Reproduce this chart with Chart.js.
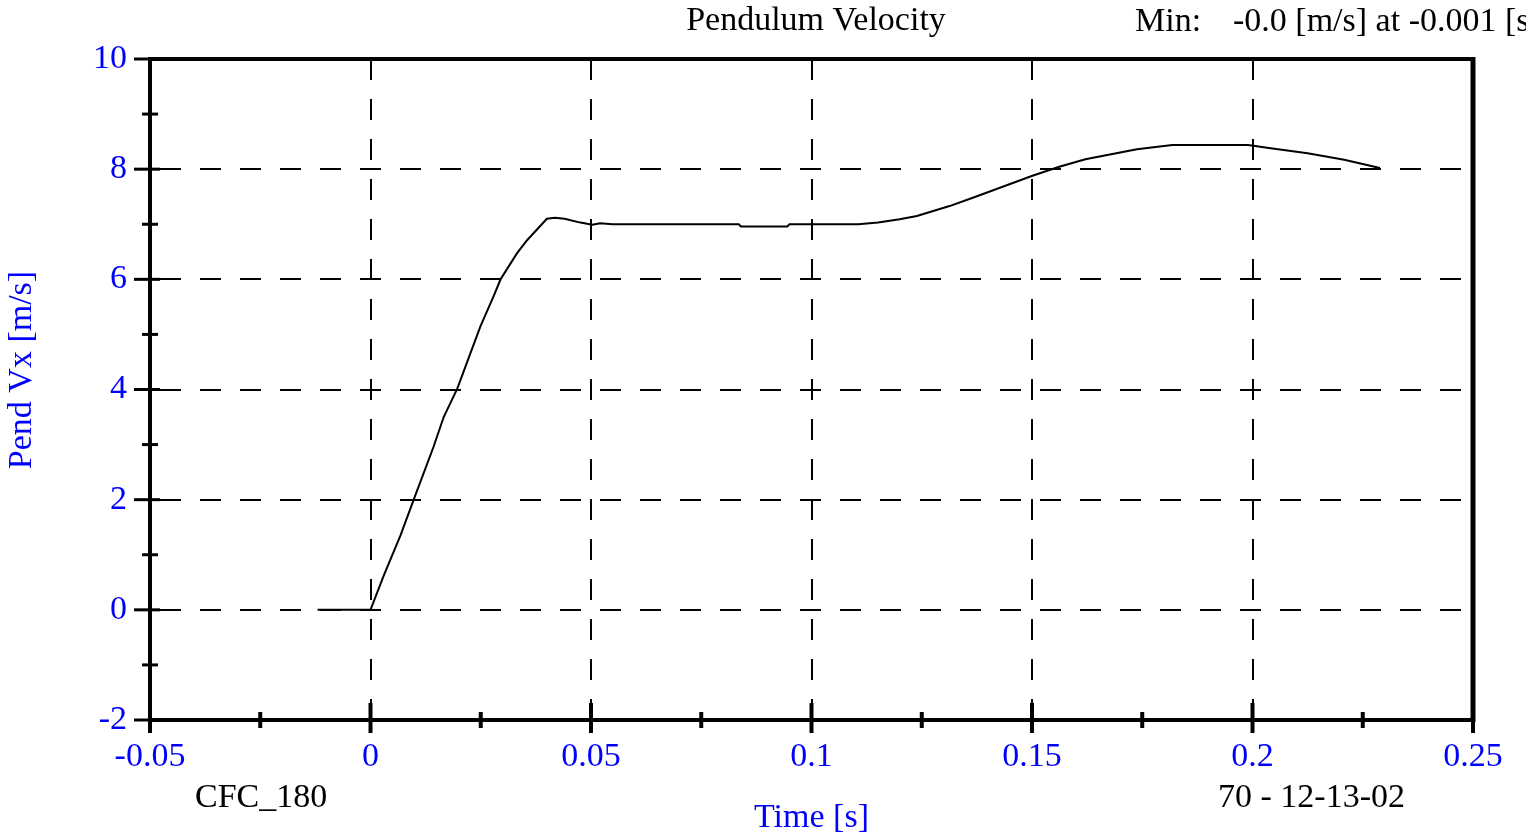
<!DOCTYPE html>
<html>
<head>
<meta charset="utf-8">
<title>Pendulum Velocity</title>
<script src="https://cdn.jsdelivr.net/npm/chart.js@4/dist/chart.umd.min.js"></script>
<style>
  html, body { margin: 0; padding: 0; background: #fff; }
  #wrap { width: 1526px; height: 836px; }
</style>
</head>
<body>
<div id="wrap"><canvas id="velChart" width="1526" height="836"></canvas></div>
<script>
// values
const timeS = [-0.012, 0, 0.003, 0.0068, 0.0098, 0.0143, 0.0166, 0.0197, 0.0249, 0.0279,
  0.0295, 0.0332, 0.0355, 0.0400, 0.0418, 0.0440, 0.0476, 0.0503, 0.0521, 0.0548,
  0.0835, 0.0840, 0.0945, 0.0950, 0.1106, 0.1151, 0.1200, 0.1239, 0.1313, 0.1369,
  0.1501, 0.1560, 0.1621, 0.1738, 0.1818, 0.1990, 0.2041, 0.2125, 0.2208, 0.2289];
const pendVx = [0, 0, 0.62, 1.35, 2.0, 2.96, 3.5, 4.02, 5.14, 5.69,
  6.0, 6.47, 6.71, 7.10, 7.12, 7.10, 7.03, 6.99, 7.02, 7.00,
  7.00, 6.96, 6.96, 7.00, 7.00, 7.03, 7.09, 7.15, 7.33, 7.49,
  7.88, 8.04, 8.18, 8.36, 8.44, 8.44, 8.38, 8.29, 8.17, 8.02];

const xTickValues = [-0.05, 0, 0.05, 0.1, 0.15, 0.2, 0.25];
const xMinorTicks = [-0.025, 0.025, 0.075, 0.125, 0.175, 0.225];
const yTickValues = [-2, 0, 2, 4, 6, 8, 10];
const yMinorTicks = [-1, 1, 3, 5, 7, 9];

const serif = '"Liberation Serif", "DejaVu Serif", serif';
const blue = '#0000ff';
const fontPx = 34;

// frame, tick marks and the loose texts around the plot
const decorations = {
  id: 'decorations',
  afterDraw(chart) {
    const ctx = chart.ctx;
    const a = chart.chartArea;
    const xs = chart.scales.x, ys = chart.scales.y;
    ctx.save();
    ctx.strokeStyle = '#000';
    ctx.lineCap = 'butt';

    // y ticks, crossing the left axis
    ctx.lineWidth = 3;
    yTickValues.forEach(v => {
      const p = ys.getPixelForValue(v);
      ctx.beginPath(); ctx.moveTo(134, p); ctx.lineTo(160, p); ctx.stroke();
    });
    yMinorTicks.forEach(v => {
      const p = ys.getPixelForValue(v);
      ctx.beginPath(); ctx.moveTo(142, p); ctx.lineTo(158, p); ctx.stroke();
    });
    // x ticks, crossing the bottom axis
    ctx.lineWidth = 4;
    xTickValues.forEach(v => {
      const p = xs.getPixelForValue(v);
      ctx.beginPath(); ctx.moveTo(p, a.bottom - 17); ctx.lineTo(p, a.bottom + 13); ctx.stroke();
    });
    xMinorTicks.forEach(v => {
      const p = xs.getPixelForValue(v);
      ctx.beginPath(); ctx.moveTo(p, a.bottom - 8); ctx.lineTo(p, a.bottom + 8); ctx.stroke();
    });

    // thick frame
    ctx.lineWidth = 4;
    ctx.beginPath();
    ctx.moveTo(a.left, a.top); ctx.lineTo(a.right, a.top);
    ctx.moveTo(a.left, a.bottom); ctx.lineTo(a.right, a.bottom);
    ctx.moveTo(a.left, a.top - 2); ctx.lineTo(a.left, a.bottom + 2);
    ctx.stroke();
    ctx.lineWidth = 5;
    ctx.beginPath();
    ctx.moveTo(a.right, a.top - 2); ctx.lineTo(a.right, a.bottom + 2);
    ctx.stroke();

    // texts
    ctx.font = fontPx + 'px ' + serif;
    ctx.fillStyle = '#000';
    ctx.textBaseline = 'middle';
    ctx.textAlign = 'center';
    ctx.fillText('Pendulum Velocity', 816, 21);
    ctx.textAlign = 'left';
    ctx.fillText('Min:', 1135, 22);
    ctx.fillText('-0.0 [m/s] at -0.001 [s]', 1233, 22);
    ctx.fillText('CFC_180', 195, 798);
    ctx.fillText('70 - 12-13-02', 1218, 798);

    // y axis title
    ctx.fillStyle = blue;
    ctx.textAlign = 'center';
    ctx.translate(22, 370);
    ctx.rotate(-Math.PI / 2);
    ctx.fillText('Pend Vx [m/s]', 0, 0);
    ctx.restore();
  }
};

new Chart(document.getElementById('velChart').getContext('2d'), {
  type: 'line',
  data: {
    datasets: [{
      label: 'Pend Vx',
      data: timeS.map((t, i) => ({ x: t, y: pendVx[i] })),
      borderColor: '#000',
      borderWidth: 2,
      pointRadius: 0,
      tension: 0,
      fill: false
    }]
  },
  options: {
    responsive: false,
    animation: false,
    layout: { padding: { top: 59, right: 53, left: 0, bottom: 0 } },
    plugins: {
      legend: { display: false },
      tooltip: { enabled: false }
    },
    scales: {
      x: {
        type: 'linear',
        min: -0.05,
        max: 0.25,
        afterBuildTicks: s => { s.ticks = xTickValues.map(v => ({ value: v })); },
        afterFit: s => { s.height = 116; },
        grid: { color: '#000', lineWidth: 2, drawTicks: false },
        border: { display: false, dash: [21, 19], dashOffset: 0 },
        ticks: {
          color: blue,
          font: { family: serif, size: fontPx },
          padding: 17,
          maxRotation: 0,
          callback: v => String(v)
        },
        title: {
          display: true,
          text: 'Time [s]',
          color: blue,
          font: { family: serif, size: fontPx },
          padding: { top: 0, bottom: -2 }
        }
      },
      y: {
        type: 'linear',
        min: -2,
        max: 10,
        afterBuildTicks: s => { s.ticks = yTickValues.map(v => ({ value: v })); },
        afterFit: s => { s.width = 150; },
        grid: { color: '#000', lineWidth: 2, drawTicks: false },
        border: { display: false, dash: [21, 19], dashOffset: 30 },
        ticks: {
          color: blue,
          font: { family: serif, size: fontPx },
          padding: 23,
          callback: v => String(v)
        }
      }
    }
  },
  plugins: [decorations]
});
</script>
</body>
</html>
